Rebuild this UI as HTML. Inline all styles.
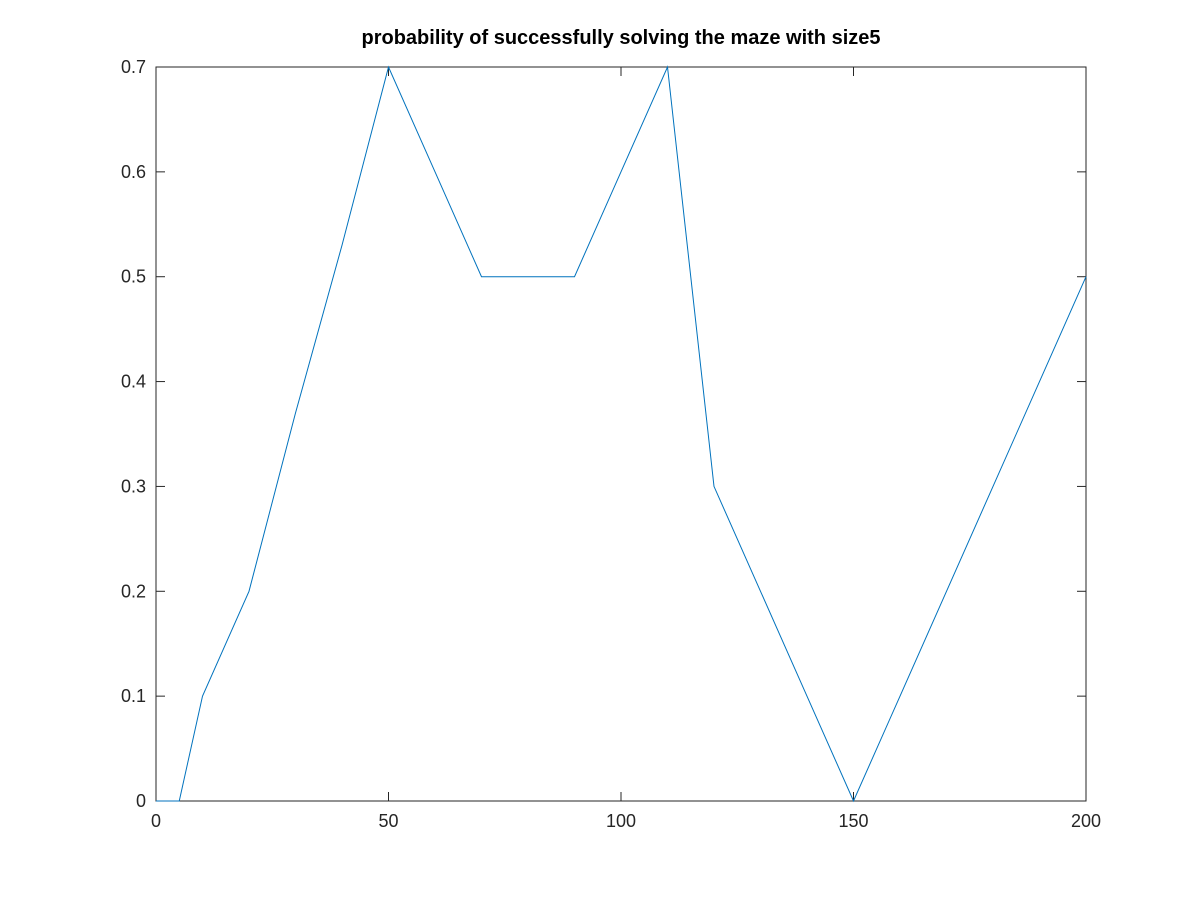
<!DOCTYPE html>
<html><head><meta charset="utf-8"><style>
body{margin:0;background:#fff;}
svg{display:block;font-family:"Liberation Sans",sans-serif;}
</style></head><body>
<svg id="chart" width="1200" height="900">
<rect width="1200" height="900" fill="#fff"/>
<text x="621" y="44" text-anchor="middle" font-size="20" font-weight="bold" fill="#000">probability of successfully solving the maze with size5</text>
<g id="axes"></g>
</svg>
<script>
const xValues=[0,5,10,20,30,40,50,60,70,80,90,100,110,120,130,140,150,160,170,180,190,200];
const yValues=[0,0,0.1,0.2,0.37,0.53,0.7,0.6,0.5,0.5,0.5,0.6,0.7,0.3,0.2,0.1,0,0.1,0.2,0.3,0.4,0.5];
const xTicks=[0,50,100,150,200];
const yTicks=[0,0.1,0.2,0.3,0.4,0.5,0.6,0.7];
const L=156,R=1086,T=67,B=801;
const sx=v=>L+(v-0)/(200-0)*(R-L);
const sy=v=>B-(v-0)/(0.7-0)*(B-T);
const ns='http://www.w3.org/2000/svg';
const g=document.getElementById('axes');
function mk(t,a){const e=document.createElementNS(ns,t);for(const k in a)e.setAttribute(k,a[k]);g.appendChild(e);return e;}
const box=mk('rect',{x:L,y:T,width:R-L,height:B-T,fill:'none',stroke:'#262626','stroke-width':1});


xTicks.forEach(v=>{
 const x=sx(v);
 const t1=mk('line',{x1:x,x2:x,y1:B,y2:B-9,stroke:'#262626'});
 
 
 const t2=mk('line',{x1:x,x2:x,y1:T,y2:T+9,stroke:'#262626'});
 
 
 const tx=mk('text',{x:x,y:B+26,'text-anchor':'middle','font-size':18,fill:'#262626'});
 tx.textContent=v;
 
 
});
yTicks.forEach(v=>{
 const y=sy(v);
 const t1=mk('line',{x1:L,x2:L+9,y1:y,y2:y,stroke:'#262626'});
 
 
 const t2=mk('line',{x1:R,x2:R-9,y1:y,y2:y,stroke:'#262626'});
 
 
 const tx=mk('text',{x:L-10,y:y+6,'text-anchor':'end','font-size':18,fill:'#262626'});
 tx.textContent=v;
 
 
});
const pts=xValues.map((x,i)=>sx(x)+','+sy(yValues[i])).join(' ');
const line=mk('polyline',{points:pts,fill:'none',stroke:'#0072bd','stroke-width':1});


</script>
</body></html>
